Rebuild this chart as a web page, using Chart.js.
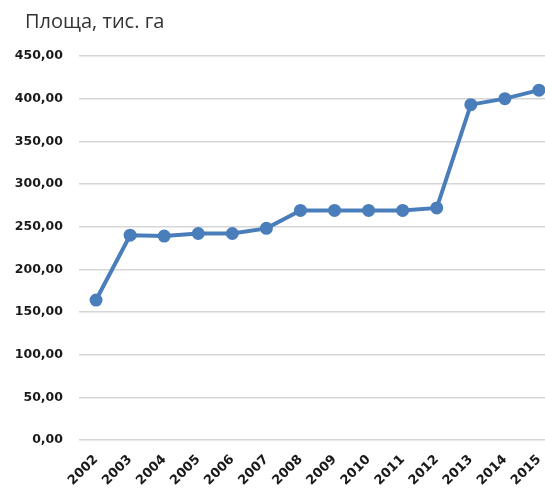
<!DOCTYPE html>
<html>
<head>
<meta charset="utf-8">
<script src="https://cdn.jsdelivr.net/npm/chart.js@4"></script>
<style>
html,body{margin:0;padding:0;background:#fff;overflow:hidden;}
canvas{display:block;}
</style>
</head>
<body>
<canvas id="c" width="545" height="488"></canvas>
<script>
const years = ['2002','2003','2004','2005','2006','2007','2008','2009','2010','2011','2012','2013','2014','2015'];
const area = [164, 240, 239, 242, 242, 248, 269, 269, 269, 269, 272, 393, 400, 410];
const yTicks = [0, 50, 100, 150, 200, 250, 300, 350, 400, 450];
const titleText = 'Площа, тис. га';

const blue = '#4A7EBB';
const plotRight = 556; // plot area in the reference runs past the right edge

const titlePlugin = {
  id: 'leftTitle',
  afterDraw(chart){
    const ctx = chart.ctx;
    ctx.save();
    ctx.fillStyle = '#333';
    ctx.font = 'normal 20px "Open Sans"';
    ctx.textAlign = 'left';
    ctx.textBaseline = 'middle';
    ctx.fillText(titleText, 25, 22);
    ctx.restore();
  }
};

const widenPlugin = {
  id: 'widen',
  afterLayout(chart){
    const x = chart.scales.x;
    x.right = plotRight;
    x.width = plotRight - x.left;
    chart.chartArea.right = plotRight;
    chart.chartArea.width = plotRight - chart.chartArea.left;
    x.configure();
  }
};

new Chart(document.getElementById('c'), {
  type: 'line',
  data: {
    labels: years,
    datasets: [{
      data: area,
      borderColor: blue,
      backgroundColor: blue,
      borderWidth: 4,
      pointRadius: 4.5,
      pointHoverRadius: 4.5,
      pointBackgroundColor: blue,
      pointBorderColor: blue,
      tension: 0
    }]
  },
  plugins: [titlePlugin, widenPlugin],
  options: {
    responsive: false,
    animation: false,
    layout: {padding: {left: 0, right: 0, top: 56, bottom: 0}},
    plugins: {
      legend: {display: false},
      tooltip: {enabled: false},
      title: {display: false}
    },
    scales: {
      x: {
        offset: true,
        grid: {display: false},
        border: {display: false},
        afterFit(scale){ scale.height = 48; },
        ticks: {
          color: '#1a1a1a',
          font: {family: 'DejaVu Sans', size: 13, weight: 'bold'},
          minRotation: 45, maxRotation: 45,
          autoSkip: false,
          padding: 4
        }
      },
      y: {
        min: 0, max: 450,
        afterBuildTicks(scale){ scale.ticks = yTicks.map(v => ({value: v})); },
        afterFit(scale){ scale.width = 79; },
        grid: {color: '#d6d6d6', lineWidth: 1.5, drawTicks: false},
        border: {display: false},
        ticks: {
          color: '#1a1a1a',
          font: {family: 'DejaVu Sans', size: 12.5, weight: 'bold'},
          padding: 16,
          callback: v => v.toFixed(2).replace('.', ',')
        }
      }
    }
  }
});
</script>
</body>
</html>
